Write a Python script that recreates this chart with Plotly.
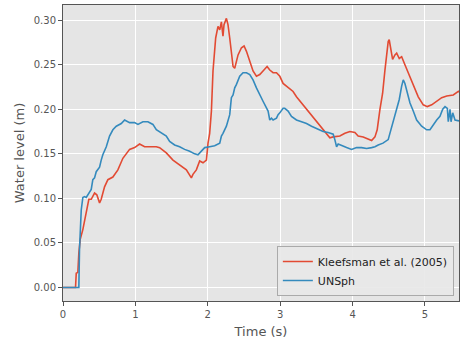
import plotly.graph_objects as go

# Kleefsman et al. (2005) experimental data
t_exp = [0.0, 0.173, 0.183, 0.205, 0.219, 0.238, 0.274, 0.321, 0.357, 0.390, 0.436, 0.467, 0.505, 0.528,
         0.574, 0.620, 0.689, 0.758, 0.827, 0.920, 0.989, 1.058, 1.127, 1.196, 1.289, 1.335, 1.427, 1.519,
         1.611, 1.704, 1.773, 1.795, 1.842, 1.888, 1.934, 1.981, 2.003, 2.026, 2.050, 2.072, 2.109, 2.141,
         2.165, 2.188, 2.210, 2.224, 2.257, 2.279, 2.303, 2.326, 2.349, 2.372, 2.418, 2.465, 2.501, 2.534,
         2.580, 2.625, 2.672, 2.718, 2.763, 2.819, 2.856, 2.902, 2.949, 2.995, 3.040, 3.109, 3.178, 3.225,
         3.295, 3.364, 3.433, 3.502, 3.571, 3.640, 3.686, 3.732, 3.824, 3.894, 3.963, 4.032, 4.077, 4.147,
         4.216, 4.263, 4.309, 4.340, 4.378, 4.415, 4.447, 4.470, 4.492, 4.506, 4.526, 4.553, 4.585, 4.609,
         4.645, 4.678, 4.723, 4.769, 4.838, 4.907, 4.976, 5.032, 5.093, 5.162, 5.231, 5.300, 5.391, 5.461,
         5.470]
h_exp = [0.0, 0.0, 0.016, 0.017, 0.039, 0.054, 0.065, 0.084, 0.099, 0.099, 0.106, 0.104, 0.095, 0.099,
         0.113, 0.121, 0.124, 0.132, 0.145, 0.155, 0.157, 0.161, 0.158, 0.158, 0.158, 0.157, 0.151, 0.143,
         0.138, 0.132, 0.123, 0.127, 0.132, 0.142, 0.140, 0.143, 0.162, 0.173, 0.198, 0.243, 0.280, 0.293,
         0.289, 0.298, 0.282, 0.295, 0.302, 0.295, 0.280, 0.261, 0.248, 0.246, 0.261, 0.269, 0.271, 0.265,
         0.254, 0.243, 0.237, 0.239, 0.243, 0.248, 0.244, 0.241, 0.241, 0.237, 0.229, 0.224, 0.220, 0.214,
         0.207, 0.200, 0.192, 0.186, 0.179, 0.172, 0.168, 0.169, 0.170, 0.173, 0.175, 0.174, 0.170, 0.169,
         0.167, 0.165, 0.169, 0.177, 0.200, 0.218, 0.244, 0.263, 0.276, 0.278, 0.267, 0.256, 0.261, 0.263,
         0.257, 0.259, 0.250, 0.241, 0.226, 0.214, 0.205, 0.203, 0.205, 0.209, 0.213, 0.215, 0.216, 0.220,
         0.219]

# UNSph simulation
t_sph = [0.0, 0.219, 0.228, 0.238, 0.252, 0.274, 0.297, 0.321, 0.343, 0.390, 0.412, 0.436, 0.459, 0.505,
         0.528, 0.550, 0.598, 0.643, 0.689, 0.736, 0.805, 0.851, 0.920, 0.989, 1.035, 1.104, 1.173, 1.242,
         1.289, 1.358, 1.427, 1.473, 1.542, 1.611, 1.680, 1.750, 1.819, 1.864, 1.911, 1.957, 2.026, 2.095,
         2.165, 2.188, 2.210, 2.257, 2.303, 2.326, 2.349, 2.372, 2.396, 2.441, 2.487, 2.534, 2.580, 2.625,
         2.672, 2.718, 2.763, 2.833, 2.856, 2.880, 2.902, 2.949, 2.971, 2.995, 3.040, 3.063, 3.109, 3.156,
         3.225, 3.295, 3.364, 3.433, 3.502, 3.548, 3.593, 3.663, 3.732, 3.755, 3.779, 3.801, 3.848, 3.917,
         3.986, 4.055, 4.124, 4.194, 4.263, 4.309, 4.354, 4.420, 4.492, 4.562, 4.609, 4.645, 4.678, 4.700,
         4.723, 4.755, 4.793, 4.838, 4.885, 4.954, 5.023, 5.069, 5.115, 5.162, 5.207, 5.245, 5.277, 5.309,
         5.322, 5.346, 5.360, 5.383, 5.415, 5.461, 5.470]
h_sph = [0.0, 0.0, 0.043, 0.073, 0.087, 0.101, 0.102, 0.101, 0.104, 0.110, 0.121, 0.123, 0.130, 0.135,
         0.143, 0.149, 0.158, 0.170, 0.177, 0.181, 0.184, 0.188, 0.185, 0.185, 0.183, 0.186, 0.186, 0.183,
         0.177, 0.173, 0.170, 0.164, 0.160, 0.158, 0.155, 0.153, 0.150, 0.149, 0.153, 0.157, 0.158, 0.159,
         0.162, 0.170, 0.173, 0.181, 0.194, 0.213, 0.216, 0.224, 0.228, 0.237, 0.241, 0.241, 0.239, 0.233,
         0.224, 0.216, 0.209, 0.198, 0.188, 0.190, 0.188, 0.190, 0.194, 0.196, 0.201, 0.201, 0.198, 0.192,
         0.188, 0.186, 0.184, 0.181, 0.178, 0.176, 0.175, 0.174, 0.172, 0.166, 0.158, 0.161, 0.159, 0.157,
         0.155, 0.157, 0.157, 0.156, 0.157, 0.158, 0.160, 0.162, 0.166, 0.188, 0.200, 0.211, 0.226, 0.233,
         0.229, 0.218, 0.207, 0.198, 0.188, 0.181, 0.177, 0.177, 0.183, 0.188, 0.192, 0.200, 0.203, 0.201,
         0.186, 0.200, 0.186, 0.196, 0.188, 0.187, 0.187]

y_ticks = [0.0, 0.05, 0.10, 0.15, 0.20, 0.25, 0.30]
x_ticks = [0, 1, 2, 3, 4, 5]

fig = go.Figure()
fig.add_trace(go.Scatter(x=t_exp, y=h_exp, mode="lines", name="Kleefsman et al. (2005)",
                         line=dict(color="#E24A33", width=1.6)))
fig.add_trace(go.Scatter(x=t_sph, y=h_sph, mode="lines", name="UNSph",
                         line=dict(color="#348ABD", width=1.6)))

axis_common = dict(showgrid=True, gridcolor="white", gridwidth=1, zeroline=False,
                   showline=True, linecolor="#555555", linewidth=1, mirror=True,
                   ticks="outside", ticklen=4, tickcolor="#555555",
                   tickfont=dict(family="DejaVu Sans", size=10, color="#555555"))

fig.update_xaxes(range=[0, 5.47], tickvals=x_ticks, ticktext=[str(v) for v in x_ticks],
                 title=dict(text="Time (s)", font=dict(family="DejaVu Sans", size=13, color="#555555"),
                            standoff=7), **axis_common)
fig.update_yaxes(range=[-0.0151, 0.317], tickvals=y_ticks, ticktext=[f"{v:.2f}" for v in y_ticks],
                 title=dict(text="Water level (m)", font=dict(family="DejaVu Sans", size=13, color="#555555"),
                            standoff=6), **axis_common)

fig.update_layout(
    width=460, height=342,
    margin=dict(l=63, r=1, t=5, b=41),
    paper_bgcolor="white", plot_bgcolor="#E5E5E5",
    font=dict(family="DejaVu Sans", color="#333333"),
    legend=dict(x=0.987, y=0.017, xanchor="right", yanchor="bottom",
                bgcolor="rgba(232,232,232,0.9)", bordercolor="#AAAAAA", borderwidth=1,
                font=dict(family="DejaVu Sans", size=11, color="#222222"),
                tracegroupgap=0, itemwidth=30),
    showlegend=True,
)

fig.write_html("out.html")
